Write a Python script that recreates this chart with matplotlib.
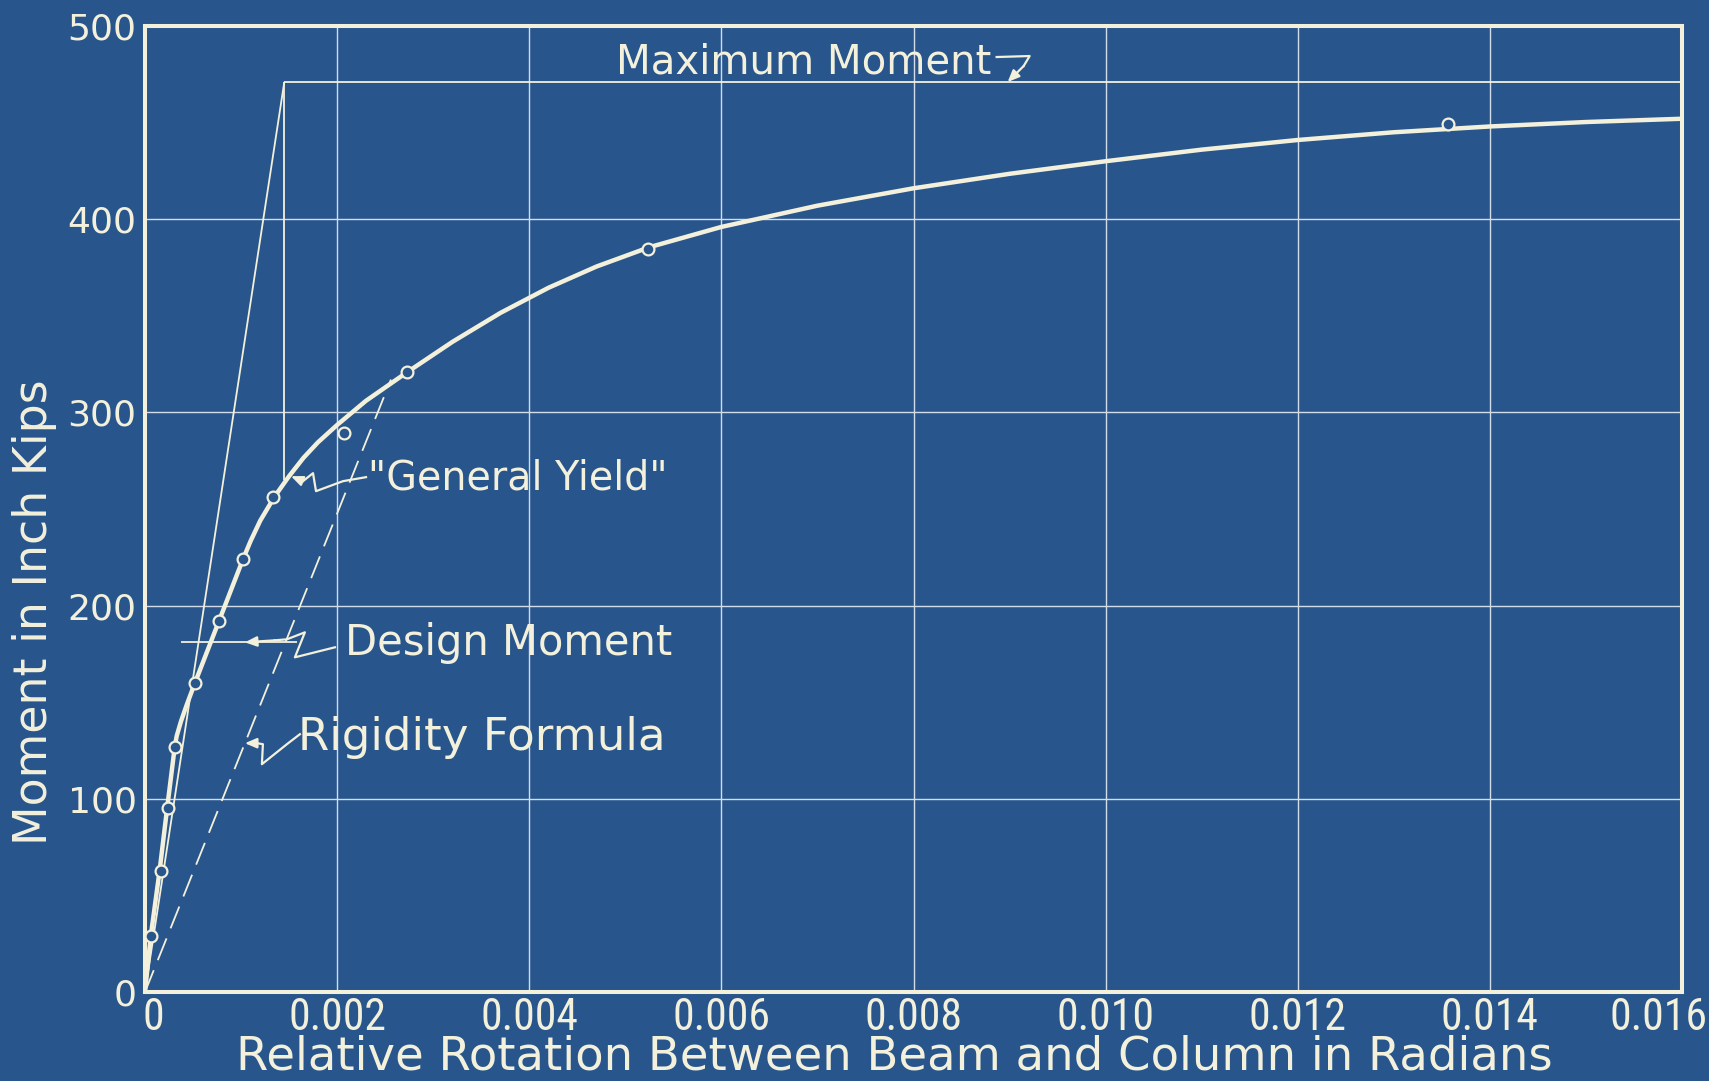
import matplotlib
matplotlib.use("Agg")
import matplotlib.pyplot as plt
import matplotlib.transforms as mtransforms
from matplotlib import font_manager

# Moment-rotation curve of the beam-to-column connection
rotation_curve = [0.0, 0.00006, 0.00015, 0.00023, 0.00031, 0.00033, 0.000374, 0.000437,
                  0.00052, 0.00077, 0.00102, 0.0011, 0.0012, 0.00135, 0.0015, 0.00165,
                  0.0018, 0.0020, 0.0023, 0.00272, 0.0032, 0.0037, 0.0042, 0.0047,
                  0.00525, 0.006, 0.007, 0.008, 0.009, 0.010, 0.011, 0.012,
                  0.013, 0.014, 0.015, 0.016]
moment_curve = [0, 29, 62, 95, 127, 132.5, 140, 149,
                160, 192, 224, 233.5, 244, 256.5, 267, 276.5,
                284.5, 293.5, 306, 320.5, 336.5, 351.5, 364.5, 375.5,
                385.5, 396, 407, 416, 423.5, 430, 436, 441,
                445, 448, 450.3, 452]

# Measured test readings
test_rotation = [0.00006, 0.00017, 0.00024, 0.00031, 0.00052, 0.00077, 0.00102,
                 0.00133, 0.00207, 0.00273, 0.00524, 0.01356]
test_moment = [29, 62.5, 95, 127, 160, 192, 224, 256, 289.5, 321, 384.7, 449.3]

# Reference lines
max_moment = 471
elastic_rotation = [0.0, 0.00145]
elastic_moment = [0, max_moment]
yield_rotation = 0.00145
yield_moment = 265
design_moment = 181
design_rotation = [0.00037, 0.00158]
rigidity_rotation = [0.0, 0.00256]
rigidity_moment = [0, 317]

x_ticks = [0.0, 0.002, 0.004, 0.006, 0.008, 0.010, 0.012, 0.014, 0.016]
x_tick_labels = ["0", "0.002", "0.004", "0.006", "0.008", "0.010", "0.012", "0.014", "0.016"]
y_ticks = [0, 100, 200, 300, 400, 500]
y_tick_labels = ["0", "100", "200", "300", "400", "500"]

BG = "#28568c"
INK = "#f3f0dc"
GRID = "#d3dde8"

# pick a narrow face for the rotation tick labels when one is installed
tick_font = dict(family="DejaVu Sans", size=26)
entries = font_manager.fontManager.ttflist
names = {f.name for f in entries}
for cand in ["Liberation Sans Narrow", "Roboto Condensed", "Open Sans Condensed",
             "DejaVu Sans Condensed"]:
    if cand in names:
        tick_font = dict(family=cand, size=31.5)
        break
else:
    for f in entries:
        if f.name == "DejaVu Sans" and f.stretch == "condensed" and f.weight == 400 \
                and f.style == "normal":
            tick_font = dict(family="DejaVu Sans", size=28, stretch="condensed")
            break

W, H = 1709, 1081
fig = plt.figure(figsize=(W / 100, H / 100), dpi=100, facecolor=BG)


def fx(px):
    return px / W


def fy(py):
    return 1 - py / H


AX_L, AX_R, AX_B, AX_T = 145, 1682, 992, 26
ax = fig.add_axes([fx(AX_L), fy(AX_B), (AX_R - AX_L) / W, (AX_B - AX_T) / H])
ax.set_facecolor(BG)
ax.set_xlim(0, 0.016)
ax.set_ylim(0, 500)

ax.set_xticks(x_ticks)
ax.set_xticklabels([])
ax.set_yticks(y_ticks)
ax.set_yticklabels(y_tick_labels, fontsize=26, family="DejaVu Sans", color=INK)
ax.tick_params(axis="both", length=0)
ax.tick_params(axis="y", pad=6)
ax.grid(True, color=GRID, lw=1.0)
ax.set_axisbelow(True)
for side, spine in ax.spines.items():
    spine.set_color(INK)
    spine.set_linewidth(2.9)

# rotation tick labels, the end ones nudged inward
label_base = (AX_B - 1030) / (AX_B - AX_T)
nudges = {0: 8, len(x_ticks) - 1: -24}
for i, (xv, lab) in enumerate(zip(x_ticks, x_tick_labels)):
    tr = ax.get_xaxis_transform() + mtransforms.ScaledTranslation(
        nudges.get(i, 0) / 100, 0, fig.dpi_scale_trans)
    ax.text(xv, label_base, lab, transform=tr, ha="center", va="baseline",
            color=INK, clip_on=False, **tick_font)

thin = dict(color=INK, lw=1.3, solid_capstyle="butt")
ax.plot(elastic_rotation, elastic_moment, **thin, zorder=2)
ax.plot([elastic_rotation[1], 0.016], [max_moment, max_moment], **thin, zorder=2)
ax.plot([yield_rotation, yield_rotation], [max_moment, yield_moment], **thin, zorder=2)
ax.plot(design_rotation, [design_moment, design_moment], **thin, zorder=2)
ax.plot(rigidity_rotation, rigidity_moment, color=INK, lw=1.3,
        linestyle=(0, (13, 6)), zorder=2)

ax.plot(rotation_curve, moment_curve, color=INK, lw=3.2, solid_joinstyle="round",
        solid_capstyle="round", zorder=3)
ax.plot(test_rotation, test_moment, linestyle="none", marker="o", ms=8.5,
        mfc=BG, mec=INK, mew=1.6, zorder=4)


def leader(x, y, path):
    """Hand-drawn style leader: path is a list of pixel offsets (right, up) from the tip."""
    tr = mtransforms.Affine2D() + mtransforms.ScaledTranslation(x, y, ax.transData)
    xs = [p[0] for p in path]
    ys = [p[1] for p in path]
    ax.plot(xs, ys, transform=tr, color=INK, lw=1.6, solid_joinstyle="round",
            clip_on=False, zorder=5)
    ax.annotate("", xy=(x, y), xycoords="data", xytext=path[0],
                textcoords="offset pixels",
                arrowprops=dict(arrowstyle="-|>,head_length=0.7,head_width=0.3",
                                color=INK, lw=1.6, shrinkA=0, shrinkB=0),
                annotation_clip=False, zorder=5)


txt = dict(color=INK, family="DejaVu Sans", va="baseline", ha="left")

fig.text(fx(616), fy(74), "Maximum Moment", fontsize=29, **txt)
leader(0.00898, max_moment, [(16, 16), (22, 26), (-11, 25)])

fig.text(fx(368), fy(490), '"General Yield"', fontsize=28.5, **txt)
leader(0.00152, 267, [(12, -5), (22, 3), (25, -15), (52, -5), (75, -1)])

fig.text(fx(345), fy(655), "Design Moment", fontsize=30, **txt)
leader(0.00104, design_moment, [(30, 2), (42, 3), (60, 10), (50, -15), (90, -5)])

fig.text(fx(298), fy(750), "Rigidity Formula", fontsize=32.5, **txt)
leader(0.00104, 0.00104 * rigidity_moment[1] / rigidity_rotation[1],
       [(12, 0), (18, -1), (17, -21), (42, -1), (55, 9)])

fig.text(fx(35), fy(612), "Moment in Inch Kips", rotation=90, fontsize=33,
         color=INK, family="DejaVu Sans", ha="center", va="center")
fig.text(fx(894), fy(1070), "Relative Rotation Between Beam and Column in Radians",
         fontsize=33.5, color=INK, family="DejaVu Sans", ha="center", va="baseline")

fig.savefig("out.png", dpi=100, facecolor=BG)
